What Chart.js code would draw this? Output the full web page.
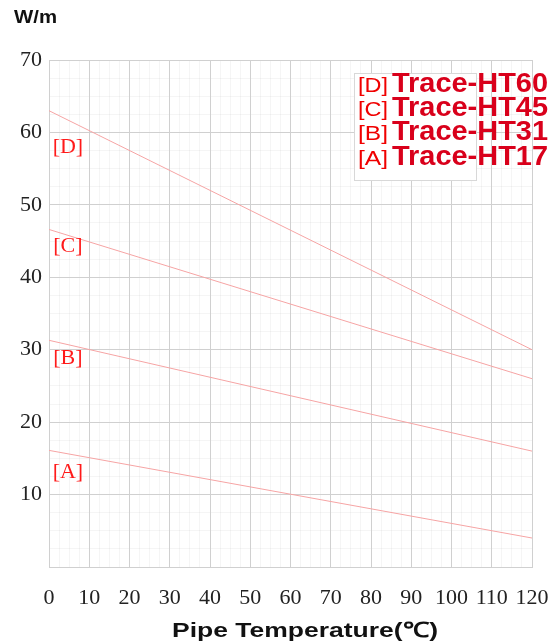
<!DOCTYPE html>
<html>
<head>
<meta charset="utf-8">
<script src="https://cdn.jsdelivr.net/npm/chart.js@4"></script>
<style>
html,body{margin:0;padding:0;background:#fff;}
#wrap{width:560px;height:643px;position:relative;}
</style>
</head>
<body>
<div id="wrap"><canvas id="c" width="560" height="643"></canvas></div>
<script>
const temps = [0, 120];
const seriesD = [63, 30];
const seriesC = [46.6, 26];
const seriesB = [31.3, 16];
const seriesA = [16.1, 4];
const xTicks = [0,10,20,30,40,50,60,70,80,90,100,110,120];
const yTicks = [0,10,20,30,40,50,60,70];
const lineLabels = ['[D]','[C]','[B]','[A]'];
const labelPos = [[4.7,58],[4.7,44.3],[4.7,28.8],[4.7,13.1]];
const legendNames = ['Trace-HT60','Trace-HT45','Trace-HT31','Trace-HT17'];

const lineColor = '#f6a4a4';
function mk(data){
  return {data: temps.map((t,i)=>({x:t,y:data[i]})), borderColor: lineColor, borderWidth: 1, pointRadius: 0, fill:false, tension:0};
}

function fitText(ctx, txt, x, y, w, align){
  const m = ctx.measureText(txt).width;
  const sx = w / m;
  ctx.save();
  ctx.translate(x, y);
  ctx.scale(sx, 1);
  ctx.textAlign = align;
  ctx.fillText(txt, 0, 0);
  ctx.restore();
}

const decor = {
  id:'decor',
  afterDraw(chart){
    const ctx = chart.ctx;
    const xs = chart.scales.x, ys = chart.scales.y;
    ctx.save();
    ctx.fillStyle = '#ff1a1a';
    ctx.font = '22px "Liberation Serif", "DejaVu Serif", serif';
    ctx.textAlign = 'center';
    ctx.textBaseline = 'middle';
    lineLabels.forEach((l,i)=>{
      ctx.fillText(l, xs.getPixelForValue(labelPos[i][0]), ys.getPixelForValue(labelPos[i][1]));
    });
    ctx.fillStyle = '#111';
    ctx.font = 'bold 18px "Liberation Sans", Arial, sans-serif';
    fitText(ctx, 'W/m', 14, 18, 43, 'left');
    ctx.font = 'bold 21px "Liberation Sans", Arial, sans-serif';
    fitText(ctx, 'Pipe Temperature(\u2103)', 172, 631, 266, 'left');
    ctx.fillStyle = '#fff';
    ctx.fillRect(354, 73, 122, 107);
    ctx.strokeStyle = '#d8d8d8';
    ctx.lineWidth = 1;
    ctx.strokeRect(354.5, 73.5, 122, 107);
    const rows = [84, 108, 132, 157];
    legendNames.forEach((n,i)=>{
      ctx.fillStyle = '#f00000';
      ctx.font = '20px "Liberation Sans", Arial, sans-serif';
      fitText(ctx, lineLabels[i], 358, rows[i]+2, 30, 'left');
      ctx.fillStyle = '#d9001b';
      ctx.font = 'bold 28px "Liberation Sans", Arial, sans-serif';
      fitText(ctx, n, 392, rows[i], 156, 'left');
    });
    ctx.restore();
  }
};

new Chart(document.getElementById('c'), {
  type:'line',
  data:{datasets:[mk(seriesD), mk(seriesC), mk(seriesB), mk(seriesA)]},
  options:{
    responsive:false,
    animation:false,
    layout:{padding:{top:60,right:28,left:0,bottom:0}},
    plugins:{legend:{display:false}, tooltip:{enabled:false}},
    scales:{
      x2:{type:'linear', min:0, max:120, position:'top', display:true,
        afterFit(s){s.height=0; s.paddingLeft=0; s.paddingRight=0;},
        ticks:{display:false, stepSize:2.5},
        grid:{color:'rgba(0,0,0,0.04)', borderDash:[1,3], drawTicks:false, lineWidth:1},
        border:{display:false}},
      y2:{type:'linear', min:0, max:70, position:'right', display:true,
        afterFit(s){s.width=0; s.paddingTop=0; s.paddingBottom=0;},
        ticks:{display:false, stepSize:2.5},
        grid:{color:'rgba(0,0,0,0.04)', borderDash:[1,3], drawTicks:false, lineWidth:1},
        border:{display:false}},
      x:{type:'linear', min:0, max:120,
        afterFit(s){s.height=76; s.paddingLeft=0; s.paddingRight=0;},
        afterBuildTicks(s){s.ticks = xTicks.map(v=>({value:v}));},
        ticks:{color:'#222', padding:18, font:{family:'"Liberation Serif", "DejaVu Serif", serif', size:22}, maxRotation:0, autoSkip:false},
        grid:{color:'#d0d0d0', lineWidth:1, drawTicks:false},
        border:{color:'#d0d0d0'}},
      y:{type:'linear', min:0, max:70,
        afterFit(s){s.width=49; s.paddingTop=0; s.paddingBottom=0;},
        afterBuildTicks(s){s.ticks = yTicks.map(v=>({value:v}));},
        ticks:{color:'#222', padding:7, font:{family:'"Liberation Serif", "DejaVu Serif", serif', size:22}, callback:v=> v===0 ? '' : v},
        grid:{color:'#d0d0d0', lineWidth:1, drawTicks:false},
        border:{color:'#d0d0d0'}}
    }
  },
  plugins:[decor]
});
</script>
</body>
</html>
